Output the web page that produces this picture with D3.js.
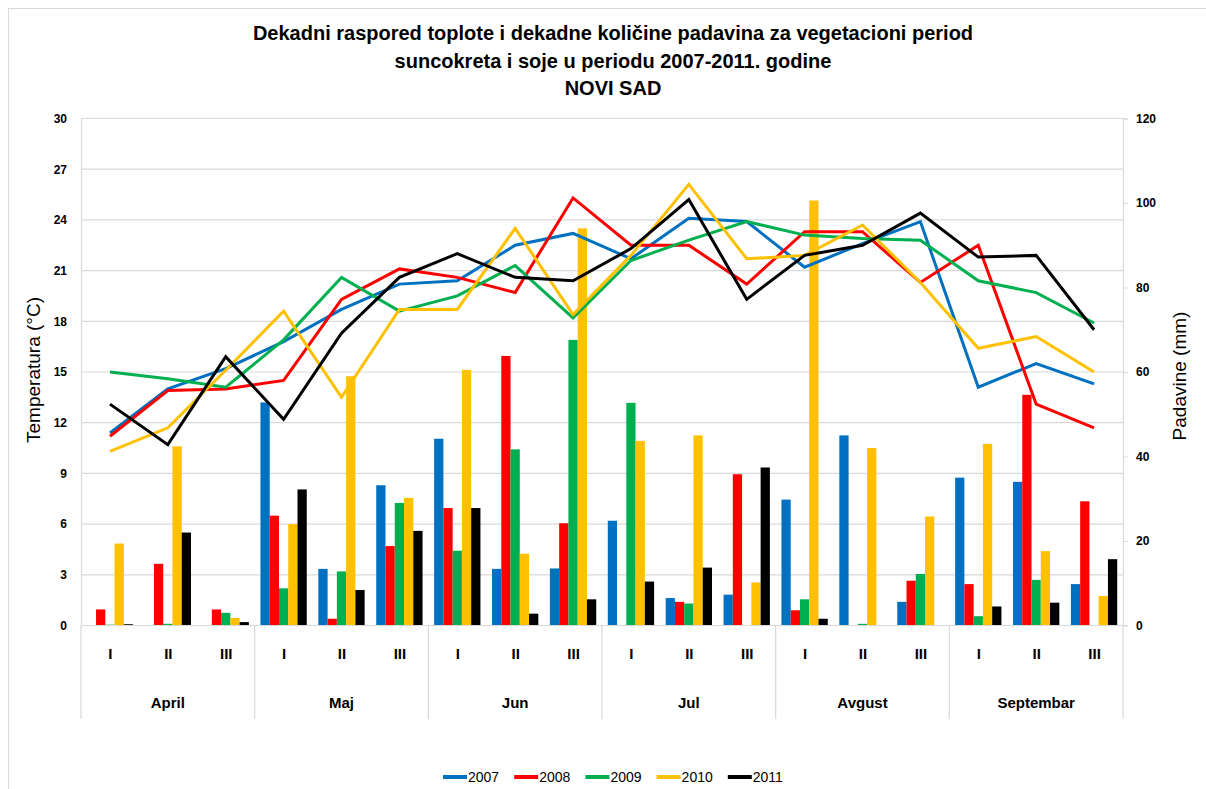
<!DOCTYPE html>
<html><head><meta charset="utf-8">
<script src="https://cdn.jsdelivr.net/npm/d3@7"></script>
<style>
body{margin:0;background:#fff;}
svg text{font-family:'Liberation Sans Narrow','Liberation Sans',sans-serif;fill:#000;}
</style></head>
<body><svg id="chart" width="1206" height="789"></svg>
<script>
const months = ["April","Maj","Jun","Jul","Avgust","Septembar"];
const dekads = ["I","II","III"];
const years = ["2007","2008","2009","2010","2011"];
const colors = ["#0070C0","#FF0000","#00B050","#FFC000","#000000"];
const tempTicks = [0,3,6,9,12,15,18,21,24,27,30];
const precTicks = [0,20,40,60,80,100,120];
const titleLines = ["Dekadni raspored toplote i dekadne količine padavina za vegetacioni period","suncokreta i soje u periodu 2007-2011. godine","NOVI SAD"];

// temperatures (°C), 18 dekads April I .. Septembar III
const temp2007 = [11.4,14.0,15.2,16.8,18.7,20.2,20.4,22.5,23.2,21.7,24.1,23.9,21.2,22.6,23.9,14.1,15.5,14.3];
const temp2008 = [11.2,13.9,14.0,14.5,19.3,21.1,20.6,19.7,25.3,22.5,22.5,20.2,23.3,23.3,20.3,22.5,13.1,11.7];
const temp2009 = [15.0,14.6,14.1,16.9,20.6,18.6,19.5,21.3,18.2,21.6,22.8,23.9,23.1,22.9,22.8,20.4,19.7,17.9];
const temp2010 = [10.3,11.7,15.1,18.6,13.5,18.7,18.7,23.5,18.4,21.9,26.1,21.7,21.9,23.7,20.3,16.4,17.1,15.0];
const temp2011 = [13.1,10.7,15.9,12.2,17.3,20.6,22.0,20.6,20.4,22.3,25.2,19.3,21.9,22.5,24.4,21.8,21.9,17.5];

// precipitation (mm)
const prec2007 = [0,0,0,52.8,13.4,33.2,44.2,13.4,13.5,24.8,6.5,7.3,29.8,45.0,5.6,35.0,34.0,9.8];
const prec2008 = [3.8,14.6,3.8,26.0,1.6,18.8,27.8,63.8,24.2,0,5.6,35.8,3.6,0,10.6,9.8,54.6,29.4];
const prec2009 = [0.2,0.4,3.0,8.8,12.8,29.0,17.7,41.7,67.6,52.7,5.2,0,6.2,0.4,12.2,2.2,10.8,0];
const prec2010 = [19.4,42.4,1.8,24.0,59.0,30.2,60.5,17.0,94.0,43.7,45.0,10.2,100.6,42.0,25.8,43.0,17.6,7.0];
const prec2011 = [0.3,22.0,0.8,32.2,8.4,22.4,27.8,2.8,6.2,10.4,13.7,37.4,1.6,0,0,4.5,5.4,15.7];

const temps = [temp2007,temp2008,temp2009,temp2010,temp2011];
const precs = [prec2007,prec2008,prec2009,prec2010,prec2011];

const categories = [];
months.forEach(m => dekads.forEach(d => categories.push(m + "-" + d)));

const svg = d3.select("#chart");
const L = 81, R = 1123, T = 118.5, B = 625.5;
const grid = "#d9d9d9";

// outer chart border
svg.append("rect").attr("x",8.5).attr("y",8.5).attr("width",1300).attr("height",1000)
  .attr("fill","none").attr("stroke","#d9d9d9");

const x0 = d3.scaleBand().domain(categories).range([L,R]).paddingInner(0.2).paddingOuter(0.1);
const x1 = d3.scaleBand().domain(years).range([0,x0.bandwidth()]);
const yT = d3.scaleLinear().domain([0,30]).range([B,T]);
const yP = d3.scaleLinear().domain([0,120]).range([B,T]);

// title
const title = svg.append("g");
titleLines.forEach((t,i) => {
  title.append("text").attr("x",613).attr("y",40 + i*27.5).attr("text-anchor","middle")
    .attr("font-size",20).attr("font-weight","bold").text(t);
});

// gridlines
svg.append("g").selectAll("line").data(tempTicks.filter(d=>d>0)).join("line")
  .attr("x1",L).attr("x2",R).attr("y1",d=>yT(d)).attr("y2",d=>yT(d))
  .attr("stroke",grid).attr("stroke-width",1.2);

// left axis
const ax = svg.append("g").attr("transform",`translate(${L},0)`)
  .call(d3.axisLeft(yT).tickValues(tempTicks).tickSize(0).tickPadding(14));
ax.select(".domain").attr("stroke",grid).attr("stroke-width",1.2);
ax.selectAll("text").attr("font-size",12).attr("font-weight","bold").attr("fill","#222");

// right axis
const ar = svg.append("g").attr("transform",`translate(${R},0)`)
  .call(d3.axisRight(yP).tickValues(precTicks).tickSize(5).tickPadding(8));
ar.select(".domain").attr("stroke",grid).attr("stroke-width",1.2);
ar.selectAll("line").attr("stroke",grid);
ar.selectAll("text").attr("font-size",12).attr("font-weight","bold").attr("fill","#222");

// axis titles
svg.append("text").attr("transform","translate(40,370) rotate(-90)").attr("text-anchor","middle")
  .attr("font-size",19).text("Temperatura (°C)");
svg.append("text").attr("transform","translate(1186,376) rotate(-90)").attr("text-anchor","middle")
  .attr("font-size",19).text("Padavine (mm)");

// bars
const barData = [];
categories.forEach((c,i) => years.forEach((y,j) => barData.push({c, y, j, v: precs[j][i]})));
svg.append("g").selectAll("rect").data(barData).join("rect")
  .attr("x", d => x0(d.c) + x1(d.y))
  .attr("width", x1.bandwidth())
  .attr("y", d => yP(d.v))
  .attr("height", d => B - yP(d.v))
  .attr("fill", d => colors[d.j]);

// x axis baseline & month separators
const step = x0.step();
svg.append("line").attr("x1",L).attr("x2",R).attr("y1",B).attr("y2",B).attr("stroke",grid).attr("stroke-width",1.2);
svg.append("g").selectAll("line").data(d3.range(months.length+1)).join("line")
  .attr("x1",i=>L+i*3*step).attr("x2",i=>L+i*3*step).attr("y1",B).attr("y2",719)
  .attr("stroke",grid).attr("stroke-width",1.2);

// dekad labels
const xc = d3.scalePoint().domain(categories).range([L+step/2, R-step/2]);
const axb = svg.append("g").attr("transform",`translate(0,${B})`)
  .call(d3.axisBottom(xc).tickSize(0).tickPadding(23).tickFormat(d => d.split("-")[1]));
axb.select(".domain").remove();
axb.selectAll("text").attr("font-size",15).attr("font-weight","bold");

// month labels
svg.append("g").selectAll("text").data(months).join("text")
  .attr("x",(m,i)=>L+(i*3+1.5)*step).attr("y",708).attr("text-anchor","middle")
  .attr("font-size",15).attr("font-weight","bold").text(d=>d);

// lines
const line = d3.line().x((d,i)=>xc(categories[i])).y(d=>yT(d));
svg.append("g").selectAll("path").data(temps).join("path")
  .attr("d", d => line(d)).attr("fill","none")
  .attr("stroke",(d,i)=>colors[i]).attr("stroke-width",3).attr("stroke-linejoin","miter");

// legend
const lg = svg.append("g").attr("transform","translate(443,777)");
years.forEach((y,i) => {
  const g = lg.append("g").attr("transform",`translate(${i*71.2},0)`);
  g.append("line").attr("x1",0).attr("x2",24).attr("stroke",colors[i]).attr("stroke-width",4);
  g.append("text").attr("x",25).attr("y",5).attr("font-size",14).attr("fill","#222").text(y);
});
</script></body></html>
